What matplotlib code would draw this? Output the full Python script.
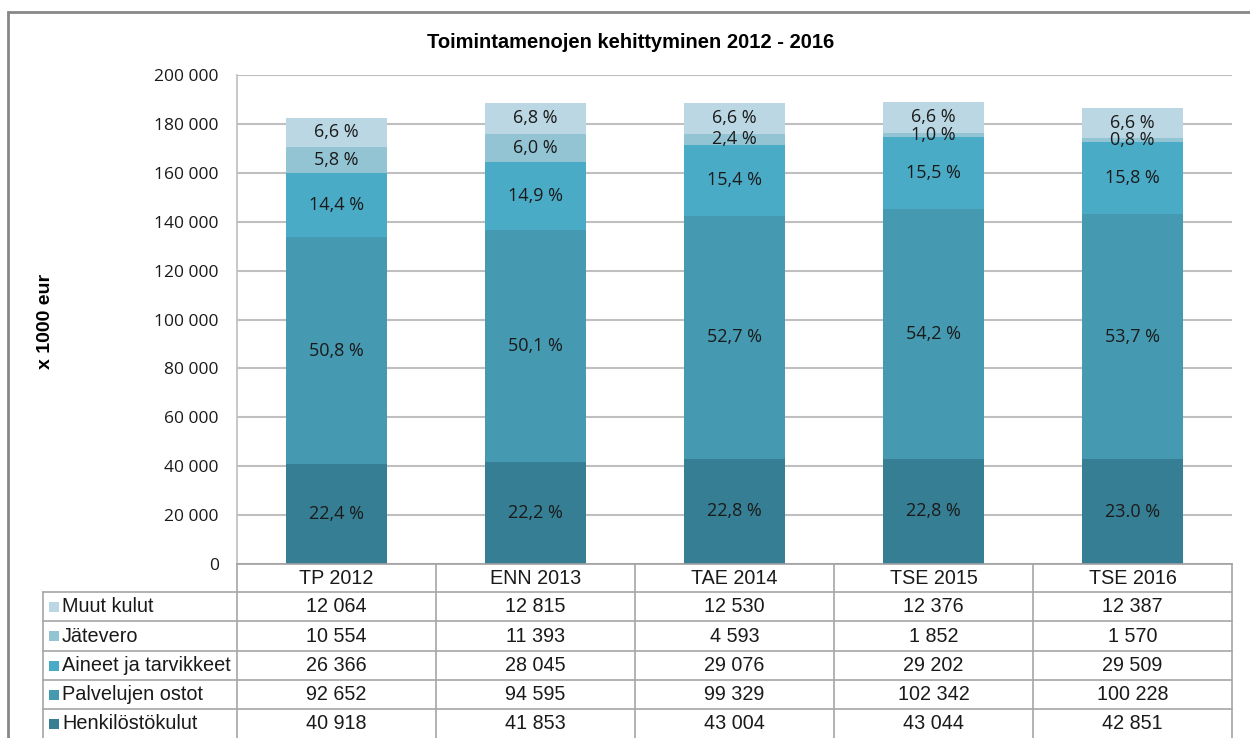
import matplotlib
matplotlib.use("Agg")
import matplotlib.pyplot as plt
from matplotlib.lines import Line2D
from matplotlib.patches import Rectangle
from matplotlib.transforms import blended_transform_factory
from matplotlib.ticker import FuncFormatter

# ---- data ----
categories = ["TP 2012", "ENN 2013", "TAE 2014", "TSE 2015", "TSE 2016"]
series_names = ["Henkilöstökulut", "Palvelujen ostot", "Aineet ja tarvikkeet", "Jätevero", "Muut kulut"]
henkilosto = [40918, 41853, 43004, 43044, 42851]
palvelut = [92652, 94595, 99329, 102342, 100228]
aineet = [26366, 28045, 29076, 29202, 29509]
jatevero = [10554, 11393, 4593, 1852, 1570]
muut = [12064, 12815, 12530, 12376, 12387]
pct_henkilosto = ["22,4 %", "22,2 %", "22,8 %", "22,8 %", "23.0 %"]
pct_palvelut = ["50,8 %", "50,1 %", "52,7 %", "54,2 %", "53,7 %"]
pct_aineet = ["14,4 %", "14,9 %", "15,4 %", "15,5 %", "15,8 %"]
pct_jatevero = ["5,8 %", "6,0 %", "2,4 %", "1,0 %", "0,8 %"]
pct_muut = ["6,6 %", "6,8 %", "6,6 %", "6,6 %", "6,6 %"]
title = "Toimintamenojen kehittyminen 2012 - 2016"
ylabel = "x 1000 eur"

series = [henkilosto, palvelut, aineet, jatevero, muut]
pcts = [pct_henkilosto, pct_palvelut, pct_aineet, pct_jatevero, pct_muut]
colors = ["#367E93", "#4599B1", "#4AABC6", "#93C4D4", "#BAD7E3"]

W, H = 1250, 738
fig = plt.figure(figsize=(W / 100, H / 100), dpi=100)

def fx(x):
    return x / W

def fy(y):
    return 1 - y / H

L, R, T, B = 237, 1232, 75, 564
ax = fig.add_axes([fx(L), fy(B), (R - L) / W, (B - T) / H])

num_font = ["Open Sans", "DejaVu Sans"]
tab_font = ["Liberation Sans", "DejaVu Sans"]
txt_color = "#1a1a1a"

x = list(range(len(categories)))
bottom = [0] * len(categories)
for vals, labs, col in zip(series, pcts, colors):
    ax.bar(x, vals, width=0.51, bottom=bottom, color=col, edgecolor="none", zorder=2)
    for xi, v, b, lab in zip(x, vals, bottom, labs):
        ax.text(xi, b + v / 2, lab, ha="center", va="center", fontsize=13,
                family=num_font, color=txt_color, zorder=3)
    bottom = [b + v for b, v in zip(bottom, vals)]

ax.set_xlim(-0.5, len(categories) - 0.5)
ax.set_ylim(0, 200000)
ax.set_yticks(range(0, 200001, 20000))
ax.yaxis.set_major_formatter(FuncFormatter(lambda v, p: f"{int(v):,}".replace(",", " ")))
ax.tick_params(axis="y", length=0, pad=13, labelsize=12.5, labelcolor=txt_color)
for lab in ax.get_yticklabels():
    lab.set_family(num_font)
ax.set_xticks([])
ax.grid(axis="y", color="#BFBFBF", linewidth=1.5, zorder=0)
for s in ["top", "right", "bottom"]:
    ax.spines[s].set_visible(False)
ax.spines["left"].set_color("#BFBFBF")
ax.spines["left"].set_linewidth(1.2)

# title and y-label
fig.text(fx(631), fy(42), title, ha="center", va="center", fontsize=14.5,
         fontweight="bold", family=tab_font, color="black")
fig.text(fx(45), fy(321), ylabel, ha="center", va="center", fontsize=14,
         fontweight="bold", family=tab_font, rotation=90, color="black")

# outer frame
fig.add_artist(Rectangle((fx(8), fy(800)), fx(1300), fy(12) - fy(800), transform=fig.transFigure,
                         fill=False, edgecolor="#878787", linewidth=2))

# data table
line_c = "#A6A6A6"
row_edges = [564, 592, 621, 651, 680, 709, 738]
col_edges = [237, 436, 635, 834, 1033, 1232]

def hline(y, x0, x1, c=line_c, lw=1.2):
    fig.add_artist(Line2D([fx(x0), fx(x1)], [fy(y), fy(y)], transform=fig.transFigure,
                          color=c, linewidth=lw))

def vline(x_, y0, y1, c=line_c, lw=1.2):
    fig.add_artist(Line2D([fx(x_), fx(x_)], [fy(y0), fy(y1)], transform=fig.transFigure,
                          color=c, linewidth=lw))

hline(564, 237, 1232, c="#A0A0A0")
for y in row_edges[1:-1]:
    hline(y, 43, 1232)
for xe in col_edges:
    vline(xe, 564, 740)
vline(43, 592, 740)

tr = blended_transform_factory(ax.transData, fig.transFigure)
row_centers = [(row_edges[i] + row_edges[i + 1]) / 2 for i in range(len(row_edges) - 1)]
for xi, cat in zip(x, categories):
    fig.text(xi, fy(row_centers[0]), cat, transform=tr, ha="center", va="center",
             fontsize=14.2, family=tab_font, color=txt_color)

table_order = [4, 3, 2, 1, 0]  # Muut, Jätevero, Aineet, Palvelut, Henkilöstö
for r, si in enumerate(table_order):
    yc = fy(row_centers[r + 1])
    fig.add_artist(Rectangle((fx(49), yc - 5 / H), 10 / W, 10 / H, transform=fig.transFigure,
                             facecolor=colors[si], edgecolor="none"))
    fig.text(fx(62), yc, series_names[si], ha="left", va="center", fontsize=14.3,
             family=tab_font, color=txt_color)
    for xi, v in zip(x, series[si]):
        fig.text(xi, yc, f"{v:,}".replace(",", " "), transform=tr, ha="center", va="center",
                 fontsize=14.2, family=tab_font, color=txt_color)

fig.savefig("out.png", dpi=100)
